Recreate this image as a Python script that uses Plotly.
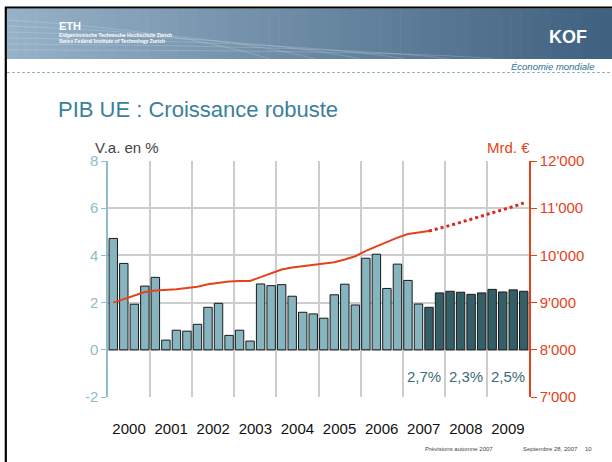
import plotly.graph_objects as go

# --- data -------------------------------------------------------------
annees = ["2000", "2001", "2002", "2003", "2004", "2005", "2006", "2007", "2008", "2009"]

# croissance trimestrielle, v.a. en %  (2000T1 ... 2009T4)
croissance = [
    4.72, 3.66, 1.93, 2.70,
    3.07, 0.41, 0.83, 0.79,
    1.08, 1.80, 1.97, 0.61,
    0.83, 0.37, 2.79, 2.72,
    2.76, 2.27, 1.59, 1.52,
    1.34, 2.33, 2.78, 1.90,
    3.88, 4.05, 2.60, 3.63,
    2.94, 1.94, 1.80, 2.41,
    2.48, 2.44, 2.35, 2.41,
    2.56, 2.45, 2.54, 2.48,
]
nb_observes = 30  # a partir de 2007T3: prevision

# PIB en Mrd. EUR, observe (2000T1 ... 2007T3)
pib_obs = [
    9000, 9080, 9150, 9225, 9258, 9268, 9283, 9310, 9335, 9390,
    9425, 9445, 9455, 9458, 9540, 9625, 9700, 9745, 9772, 9795,
    9825, 9857, 9913, 9983, 10095, 10194, 10285, 10376, 10454, 10490,
    10517,
]
# prevision (2007T3 ... 2009T4)
pib_prev = [10517, 10570, 10635, 10700, 10765, 10830, 10895, 10960, 11035, 11110]

annees_prev = ["2007", "2008", "2009"]
croissance_prev = ["2,7%", "2,3%", "2,5%"]

ticks_gauche = [-2, 0, 2, 4, 6, 8]
labels_gauche = ["-2", "0", "2", "4", "6", "8"]
ticks_droite = [7000, 8000, 9000, 10000, 11000, 12000]
labels_droite = ["7'000", "8'000", "9'000", "10'000", "11'000", "12'000"]

# --- mise en page -------------------------------------------------------
W, H = 612, 462
ML, MR, MT, MB = 108, 83, 161, 65
PW, PH = W - ML - MR, H - MT - MB

BLEU_CLAIR = "#86b4bf"
BLEU_FONCE = "#355f67"
ROUGE = "#e5421c"
AXE_G = "#8dbccb"
GRILLE = "#cdcdcd"
FONT = "Liberation Sans, Arial, sans-serif"


def px(x):
    return (x - ML) / PW


def py(y):
    return (H - MB - y) / PH


n = len(croissance)
idx = list(range(n))
frontieres = [4 * k - 0.5 for k in range(len(annees) + 1)]
centres = [4 * k + 1.5 for k in range(len(annees))]

fig = go.Figure()

fig.add_trace(go.Bar(
    x=idx, y=croissance, width=0.8,
    marker=dict(color=[BLEU_CLAIR if i < nb_observes else BLEU_FONCE for i in idx],
                line=dict(color="#1a1a1a", width=1)),
    yaxis="y", xaxis="x",
))
fig.add_trace(go.Scatter(
    x=idx[:len(pib_obs)], y=pib_obs, mode="lines",
    line=dict(color=ROUGE, width=2), yaxis="y2", xaxis="x",
))
fig.add_trace(go.Scatter(
    x=idx[len(pib_obs) - 1:], y=pib_prev, mode="lines",
    line=dict(color="#dc2626", width=3, dash="dot"), yaxis="y2", xaxis="x",
))

# bandeau en degrade
shapes = []
n_bandes = 60
x0, x1 = 7, W
c0, c1 = (150, 178, 200), (64, 97, 128)
for i in range(n_bandes):
    t = i / (n_bandes - 1)
    c = tuple(int(c0[j] + (c1[j] - c0[j]) * t) for j in range(3))
    xa = x0 + (x1 - x0) * i / n_bandes
    xb = x0 + (x1 - x0) * (i + 1) / n_bandes + 0.6
    shapes.append(dict(type="rect", xref="paper", yref="paper",
                       x0=px(xa), x1=px(xb), y0=py(59), y1=py(8.5),
                       fillcolor="rgb(%d,%d,%d)" % c, line=dict(width=0), layer="below"))
# lignes claires dans le bandeau
for k in range(6):
    xs = 120 + 45 * k
    path = "M %f %f Q %f %f %f %f" % (px(7), py(20 + 6 * k), px(xs + 60), py(30 + 4 * k),
                                      px(xs + 150), py(59))
    shapes.append(dict(type="path", xref="paper", yref="paper", path=path,
                       line=dict(color="rgba(255,255,255,0.18)", width=1), layer="below"))
# cadre de la diapo
shapes.append(dict(type="line", xref="paper", yref="paper", x0=px(5), x1=px(W), y0=py(7.5), y1=py(7.5),
                   line=dict(color="black", width=2.2)))
shapes.append(dict(type="line", xref="paper", yref="paper", x0=px(5.8), x1=px(5.8), y0=py(7), y1=py(H),
                   line=dict(color="black", width=2.2)))
# ligne pointillee sous le bandeau
shapes.append(dict(type="line", xref="paper", yref="paper", x0=px(7), x1=px(W), y0=py(72.5), y1=py(72.5),
                   line=dict(color="#8fb4c4", width=1, dash="3px,2px")))

annotations = []


def texte(t, x, y, size, color, xanchor="left", bold=False, italic=False):
    if bold:
        t = "<b>" + t + "</b>"
    if italic:
        t = "<i>" + t + "</i>"
    annotations.append(dict(text=t, x=px(x), y=py(y), xref="paper", yref="paper",
                            xanchor=xanchor, yanchor="middle", showarrow=False,
                            font=dict(size=size, color=color, family=FONT)))


texte("ETH", 57, 26, 11, "white", bold=True)
texte("Eidgenössische Technische Hochschule Zürich", 57, 35, 5, "white", bold=True)
texte("Swiss Federal Institute of Technology Zurich", 57, 41, 5, "white", bold=True)
texte("KOF", 589, 37, 18, "white", xanchor="right", bold=True)
texte("Économie mondiale", 596, 67, 9.5, "#2e6f90", xanchor="right", italic=True)
texte("PIB UE : Croissance robuste", 56, 110, 22, "#3a7f9c")
texte("V.a. en %", 93, 148, 15, "#444444")
texte("Mrd. €", 532, 148, 15, ROUGE, xanchor="right")
texte("Prévisions automne 2007", 495, 449, 6, "#444444", xanchor="right")
texte("Septembre 28, 2007", 580, 449, 6, "#444444", xanchor="right")
texte("10", 594, 449, 6, "#444444", xanchor="right")

for a, g in zip(annees_prev, croissance_prev):
    annotations.append(dict(text=g, x=centres[annees.index(a)], y=-1.13, xref="x", yref="y",
                            showarrow=False, font=dict(size=15, color="#3e6c75", family=FONT)))

fig.update_layout(
    width=W, height=H, margin=dict(l=ML, r=MR, t=MT, b=MB),
    paper_bgcolor="white", plot_bgcolor="white",
    showlegend=False, bargap=0.2,
    font=dict(family=FONT),
    shapes=shapes, annotations=annotations,
    xaxis=dict(range=[-0.5, n - 0.5], tickmode="array", tickvals=centres, ticktext=annees,
               ticks="outside", ticklen=18, tickcolor="rgba(0,0,0,0)",
               tickfont=dict(size=15, color="#111111"),
               showgrid=False, zeroline=False, showline=False,
               minor=dict(tickmode="array", tickvals=frontieres, showgrid=True,
                          gridcolor=GRILLE, gridwidth=1.5, ticks="")),
    xaxis3=dict(overlaying="x", matches="x", anchor="free", position=0.2,
                tickmode="array", tickvals=frontieres, showticklabels=False,
                ticks="outside", ticklen=6, tickwidth=1.5, tickcolor="black",
                showline=True, linecolor="black", linewidth=1.5, showgrid=False, zeroline=False),
    yaxis=dict(range=[-2, 8], tickmode="array", tickvals=ticks_gauche, ticktext=labels_gauche,
               showgrid=True, gridcolor=GRILLE, gridwidth=1.5, zeroline=False,
               showline=True, linecolor=AXE_G, linewidth=1.5,
               ticks="outside", ticklen=5, tickcolor=AXE_G,
               tickfont=dict(size=15, color=AXE_G)),
    yaxis2=dict(range=[7000, 12000], overlaying="y", side="right",
                tickmode="array", tickvals=ticks_droite, ticktext=labels_droite,
                showgrid=False, zeroline=False,
                showline=True, linecolor=ROUGE, linewidth=1.5,
                ticks="outside", ticklen=6, tickcolor=ROUGE,
                tickfont=dict(size=15, color=ROUGE)),
)

fig.write_html("out.html", config={"displayModeBar": False},
               post_script="document.body.style.margin='0';")
